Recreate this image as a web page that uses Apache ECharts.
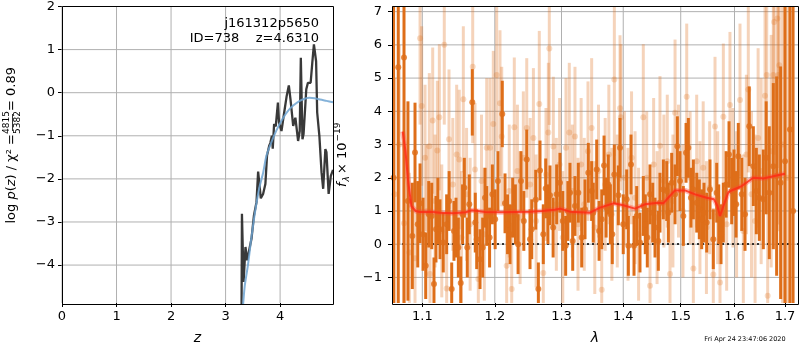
<!DOCTYPE html>
<html>
<head>
<meta charset="utf-8">
<script src="https://cdn.jsdelivr.net/npm/echarts@6/dist/echarts.min.js"></script>
<style>
html, body { margin: 0; padding: 0; background: #fff; }
#chart { width: 800px; height: 350px; }
</style>
</head>
<body>
<div id="chart"></div>
<script>
// ---- redshift probability panel ----
const zGrid  = [3.29, 3.30, 3.33, 3.365, 3.395, 3.43, 3.475, 3.52, 3.567, 3.597, 3.646, 3.688, 3.73, 3.76, 3.80, 3.82, 3.85, 3.865, 3.89, 3.92, 3.96, 3.98, 4.025, 4.07, 4.12, 4.16, 4.19, 4.24, 4.28, 4.33, 4.36, 4.38, 4.41, 4.43, 4.48, 4.51, 4.56, 4.59, 4.62, 4.66, 4.68, 4.72, 4.76, 4.79, 4.83, 4.85, 4.89, 4.93, 4.97];
const logPz  = [-6.0, -2.81, -4.39, -3.58, -3.89, -3.86, -3.39, -2.85, -2.54, -1.83, -2.45, -2.35, -2.12, -1.46, -1.23, -1.17, -1.0, -1.3, -0.73, -0.78, -0.23, -0.69, -0.89, -0.50, -0.08, 0.17, -0.15, -0.77, -0.58, -1.12, -0.89, 0.81, -1.08, -0.96, 0.08, 0.23, 0.23, 0.69, 1.12, 0.73, -0.46, -1.0, -1.85, -2.23, -1.31, -1.38, -2.35, -1.93, -1.79];
const zFit   = [3.30, 3.35, 3.41, 3.47, 3.54, 3.62, 3.69, 3.75, 3.84, 3.93, 4.02, 4.12, 4.24, 4.36, 4.45, 4.54, 4.63, 4.73, 4.85, 4.97];
const logPzFit = [-5.3, -4.5, -4.0, -3.4, -2.77, -2.2, -1.85, -1.46, -1.15, -0.88, -0.66, -0.46, -0.3, -0.19, -0.14, -0.12, -0.13, -0.16, -0.19, -0.22];
const zTicks  = [0, 1, 2, 3, 4];
const pzTicks = [-4, -3, -2, -1, 0, 1, 2];

// ---- spectrum panel (wavelength in micron, flux in 1e-19) ----
const darkLam = [1.0627, 1.0687, 1.0761, 1.0812, 1.0869, 1.0904, 1.0940, 1.0970, 1.1010, 1.1045, 1.1085, 1.1125, 1.1155, 1.1182, 1.1208, 1.1236, 1.1280, 1.1326, 1.1360, 1.1395, 1.1426, 1.1454, 1.1486, 1.1519, 1.1545, 1.1569, 1.1610, 1.1638, 1.1680, 1.1722, 1.1742, 1.1789, 1.1827, 1.1860, 1.1884, 1.1925, 1.1965, 1.2005, 1.2045, 1.2108, 1.2148, 1.2185, 1.2221, 1.2260, 1.2300, 1.2340, 1.2383, 1.2425, 1.2469, 1.2518, 1.2544, 1.2604, 1.2644, 1.2669, 1.2719, 1.2756, 1.2790, 1.2822, 1.2870, 1.2925, 1.2976, 1.3020, 1.3065, 1.3100, 1.3133, 1.3176, 1.3212, 1.3265, 1.3319, 1.3372, 1.3425, 1.3479, 1.3505, 1.3561, 1.3600, 1.3643, 1.3681, 1.3715, 1.3751, 1.3785, 1.3817, 1.3851, 1.3918, 1.3946, 1.4000, 1.4058, 1.4086, 1.4131, 1.4182, 1.4228, 1.4284, 1.4341, 1.4375, 1.4410, 1.4457, 1.4504, 1.4544, 1.4602, 1.4631, 1.4690, 1.4750, 1.4779, 1.4838, 1.4898, 1.4939, 1.4987, 1.5047, 1.5096, 1.5138, 1.5185, 1.5229, 1.5291, 1.5338, 1.5382, 1.5425, 1.5475, 1.5536, 1.5598, 1.5662, 1.5700, 1.5743, 1.5787, 1.5840, 1.5895, 1.5946, 1.5990, 1.6030, 1.6073, 1.6140, 1.6203, 1.6286, 1.6366, 1.6425, 1.6484, 1.6563, 1.6620, 1.6682, 1.6763, 1.6830, 1.6911, 1.7000, 1.7101, 1.7165];
const darkFlux = [2.0, 5.33, 5.62, 1.3, 0.25, 2.76, 0.6, 1.23, 0.3, -0.65, 0.9, 0.85, -1.2, 0.45, 1.0, 0.45, 0.05, 0.6, 1.3, -1.35, 0.4, 0.5, -0.1, -1.17, 0.9, 1.7, -0.1, 1.2, 4.27, 0.65, 0.15, -0.45, -0.1, 1.4, 0.85, 0.2, 1.5, 0.75, 1.9, 3.92, 1.23, 0.6, 0.3, 1.1, 0.9, 0.0, 1.9, 0.7, 2.55, 0.15, 0.45, 1.34, -1.35, 2.22, 0.3, 1.68, 0.9, 1.47, 0.5, 1.5, 1.85, 0.7, -0.05, 1.0, 1.55, 0.1, 1.15, 1.55, 0.2, 1.05, 2.15, 1.6, 0.95, 2.25, 0.4, 0.75, 2.37, 1.1, 1.8, 0.9, 0.3, 2.1, 1.47, 2.9, 0.6, 1.35, -0.05, 2.4, -0.05, 0.85, 0.05, 1.15, 0.6, 0.2, 1.5, 0.95, 0.5, 0.1, 1.25, 1.65, 1.6, 0.95, 1.85, 1.5, 2.95, 1.9, 0.85, 2.75, 2.9, 1.4, 1.65, 1.25, 1.05, 0.75, 0.95, 0.65, 1.65, 0.15, 1.55, 0.9, 0.3, 0.95, 1.8, 2.7, 1.6, 1.85, 1.2, 2.65, 1.5, 0.9, 3.55, 2.35, 1.6, 1.4, 1.35, 2.6, 1.55, 2.35, 2.05, 1.85, 2.5, 3.45, 1.0];
const darkErr = [9, 9, 9, 3.0, 1.6, 1.5, 1.3, 1.2, 1.1, 1.0, 1.0, 1.0, 0.8, 1.0, 1.0, 0.9, 0.9, 0.9, 0.9, 0.8, 0.9, 0.9, 0.9, 0.8, 0.9, 0.9, 0.9, 0.9, 1.0, 0.9, 0.9, 0.9, 0.9, 0.9, 0.9, 0.9, 0.9, 0.9, 0.9, 1.0, 0.9, 0.9, 0.9, 0.9, 0.9, 0.9, 0.9, 0.9, 0.9, 0.9, 0.9, 0.9, 0.8, 0.9, 0.9, 0.9, 0.9, 0.9, 0.9, 0.9, 0.9, 0.9, 0.9, 0.9, 0.9, 0.9, 0.9, 0.9, 0.9, 0.9, 0.9, 0.9, 0.9, 0.9, 0.9, 0.9, 0.9, 0.9, 0.9, 0.9, 0.9, 0.9, 0.9, 0.9, 0.9, 0.9, 0.9, 0.9, 0.9, 0.9, 0.9, 0.9, 0.9, 0.9, 0.9, 0.9, 0.9, 0.9, 0.9, 0.9, 0.9, 0.9, 0.9, 0.9, 0.9, 0.9, 0.9, 0.9, 0.9, 0.9, 0.9, 0.9, 0.9, 0.9, 0.9, 0.9, 0.9, 0.9, 0.9, 0.9, 0.9, 0.9, 1.0, 1.0, 1.0, 1.0, 1.0, 1.0, 1.1, 1.1, 1.2, 1.2, 1.3, 1.3, 1.5, 1.7, 2.0, 2.5, 3.0, 3.5, 5, 9, 9];

const lightLam = [1.0640, 1.0700, 1.0761, 1.0830, 1.0904, 1.0970, 1.0992, 1.1036, 1.1060, 1.1093, 1.1102, 1.1138, 1.1170, 1.1200, 1.1227, 1.1260, 1.1294, 1.1326, 1.1358, 1.1410, 1.1463, 1.1499, 1.1530, 1.1555, 1.1600, 1.1650, 1.1686, 1.1718, 1.1765, 1.1810, 1.1850, 1.1884, 1.1931, 1.1978, 1.2027, 1.2075, 1.2100, 1.2172, 1.2210, 1.2246, 1.2284, 1.2330, 1.2370, 1.2418, 1.2469, 1.2520, 1.2569, 1.2610, 1.2658, 1.2719, 1.2760, 1.2796, 1.2811, 1.2873, 1.2920, 1.2970, 1.3020, 1.3070, 1.3122, 1.3170, 1.3212, 1.3260, 1.3310, 1.3360, 1.3420, 1.3479, 1.3530, 1.3590, 1.3643, 1.3700, 1.3760, 1.3810, 1.3851, 1.3900, 1.3946, 1.3960, 1.4020, 1.4080, 1.4140, 1.4200, 1.4260, 1.4341, 1.4400, 1.4457, 1.4520, 1.4580, 1.4631, 1.4700, 1.4760, 1.4808, 1.4860, 1.4898, 1.4960, 1.5040, 1.5108, 1.5170, 1.5229, 1.5290, 1.5350, 1.5410, 1.5470, 1.5530, 1.5598, 1.5630, 1.5680, 1.5724, 1.5787, 1.5850, 1.5913, 1.5970, 1.6040, 1.6106, 1.6170, 1.6230, 1.6267, 1.6330, 1.6400, 1.6460, 1.6520, 1.6597, 1.6631, 1.6650, 1.6720, 1.6763, 1.6780, 1.6844, 1.6864, 1.6884, 1.6950, 1.7050];
const lightFlux = [1.5, 3.0, 0.63, -0.25, -0.42, 6.2, 4.16, 2.6, 1.0, 2.95, -0.9, 3.72, 1.3, 2.82, 3.82, 0.4, 6.0, -1.33, 3.16, 1.8, 2.7, 2.55, 0.2, 4.36, 1.5, 0.6, 5.34, 2.25, -1.05, 1.9, 0.3, 2.9, 2.9, 3.62, 5.09, 4.24, 3.24, -0.65, 1.6, -1.35, 3.52, 2.2, 0.8, 2.6, 3.5, 1.8, 3.2, 0.7, 4.22, -0.87, 2.1, 3.36, 5.89, 2.94, 1.2, 2.4, 0.2, 2.9, 3.36, 1.6, 3.24, 0.6, 2.4, 1.2, 2.8, 3.5, 0.5, 2.2, -1.37, 1.8, 2.7, 0.9, 4.96, 1.3, 4.09, 3.82, 2.0, 0.9, 2.6, 1.4, 0.3, 3.82, 2.0, -1.25, 2.4, 0.8, 2.96, 1.9, 2.5, -0.9, 1.3, 3.96, 2.2, 1.0, 4.44, 2.0, -0.73, 2.5, 1.1, 2.3, 0.5, 1.7, -0.91, 3.54, 1.4, -1.15, 3.84, 0.6, 4.19, 2.0, 1.2, 4.34, 0.4, 2.7, 4.66, 1.5, 0.7, 3.2, 2.2, 4.47, 5.09, -1.55, 2.8, 5.09, 6.69, 6.79, 5.09, 5.39, 3.0, 2.0];
const lightErr = [3.5, 3.0, 2.5, 2.4, 2.3, 2.6, 2.4, 2.2, 2.0, 2.2, 2.0, 2.2, 2.0, 2.1, 2.2, 2.0, 2.4, 2.0, 2.1, 2.0, 2.1, 2.1, 2.0, 2.2, 2.0, 2.0, 2.3, 2.0, 2.0, 2.0, 2.0, 2.1, 2.1, 2.2, 2.3, 2.2, 2.1, 2.0, 2.0, 2.0, 2.1, 2.0, 2.0, 2.0, 2.1, 2.0, 2.1, 2.0, 2.2, 2.0, 2.0, 2.1, 2.3, 2.1, 2.0, 2.0, 2.0, 2.1, 2.1, 2.0, 2.1, 2.0, 2.0, 2.0, 2.1, 2.1, 2.0, 2.0, 2.0, 2.0, 2.1, 2.0, 2.3, 2.0, 2.2, 2.2, 2.0, 2.0, 2.0, 2.0, 2.0, 2.2, 2.0, 2.0, 2.0, 2.0, 2.1, 2.0, 2.0, 2.0, 2.0, 2.2, 2.0, 2.0, 2.2, 2.0, 2.0, 2.0, 2.0, 2.0, 2.0, 2.0, 2.0, 2.1, 2.0, 2.0, 2.2, 2.0, 2.2, 2.1, 2.2, 2.3, 2.3, 2.4, 2.5, 2.5, 2.6, 2.7, 2.8, 3.0, 3.2, 3.0, 3.5, 3.8, 4.0, 4.5, 4.5, 5, 6, 7];

const modelLam  = [1.0744, 1.0780, 1.0812, 1.0856, 1.0912, 1.0970, 1.1102, 1.1236, 1.1415, 1.1590, 1.1675, 1.1860, 1.2095, 1.2300, 1.2518, 1.2700, 1.2893, 1.2976, 1.3133, 1.3452, 1.3615, 1.3835, 1.4000, 1.4199, 1.4370, 1.4600, 1.4689, 1.4895, 1.5078, 1.5260, 1.5474, 1.5612, 1.5675, 1.5724, 1.5788, 1.5884, 1.5978, 1.6139, 1.6366, 1.6563, 1.6830, 1.7000];
const modelFlux = [3.39, 2.8, 1.95, 1.15, 1.0, 0.97, 0.98, 0.95, 0.93, 0.96, 1.02, 0.97, 0.96, 0.97, 0.98, 1.0, 1.04, 1.07, 0.98, 0.95, 1.1, 1.23, 1.17, 1.07, 1.2, 1.25, 1.23, 1.62, 1.62, 1.5, 1.4, 1.35, 1.15, 0.85, 1.15, 1.57, 1.64, 1.75, 2.0, 1.98, 2.07, 2.12];

const lamTicks  = [1.1, 1.2, 1.3, 1.4, 1.5, 1.6, 1.7];
const fluxTicks = [-1, 0, 1, 2, 3, 4, 5, 6, 7];

// axis ranges; the wavelength axis is logarithmic, so ln(lambda) is plotted
const Z_RANGE = [0, 4.97], PZ_RANGE = [-4.88, 2];
const LAM_RANGE = [Math.log(1.0607), Math.log(1.7267)], FLUX_RANGE = [-1.77, 7.17];

const FONT = 'DejaVu Sans';
const ORANGE = 'rgb(222,110,25)';
const ORANGE_LIGHT = 'rgba(222,110,25,0.3)';
const GRID_GREY = '#b0b0b0';
const minusSign = v => String(v).replace('-', '\u2212');

const G1 = { left: 62, top: 6, width: 271, height: 298 };
const G2 = { left: 392, top: 6, width: 406, height: 298 };

function valueAxis(gridIndex, range, ticks, formatter, margin, extra) {
  return Object.assign({
    gridIndex: gridIndex, type: 'value', min: range[0], max: range[1],
    axisLine: { show: false, onZero: false },
    axisTick: { show: true, length: 4, lineStyle: { color: '#000', width: 1 }, customValues: ticks },
    axisLabel: { color: '#000', fontFamily: FONT, fontSize: 13, margin: margin, customValues: ticks, formatter: formatter },
    splitLine: { show: false }
  }, extra || {});
}

// one plain line series per grid line, spanning the full axis range
function gridLines(xi, yi, xs, ys, xr, yr) {
  const segs = xs.map(v => [[v, yr[0]], [v, yr[1]]]).concat(ys.map(v => [[xr[0], v], [xr[1], v]]));
  return segs.map(seg => ({
    type: 'line', xAxisIndex: xi, yAxisIndex: yi, z: 3, silent: true,
    symbol: 'none', data: seg,
    lineStyle: { color: GRID_GREY, width: 1 }
  }));
}

function errorBars(lam, flux, err, color, z) {
  return {
    type: 'custom', xAxisIndex: 1, yAxisIndex: 1, clip: true, z: z, silent: true,
    data: lam.map((l, i) => [Math.log(l), flux[i], err[i]]),
    encode: { x: 0, y: 1 },
    renderItem: function (params, api) {
      const x = api.value(0), y = api.value(1), e = api.value(2);
      const hi = api.coord([x, y + e]);
      const lo = api.coord([x, y - e]);
      return {
        type: 'rect',
        shape: { x: hi[0] - 1.5, y: hi[1], width: 3, height: lo[1] - hi[1] },
        style: { fill: color }
      };
    }
  };
}

function dots(lam, flux, color, z) {
  return {
    type: 'scatter', xAxisIndex: 1, yAxisIndex: 1, z: z, silent: true,
    symbol: 'circle', symbolSize: 6,
    itemStyle: { color: color },
    data: lam.map((l, i) => [Math.log(l), flux[i]])
  };
}

// black frame round a plot area, as four separate strokes
function frame(g) {
  const x0 = g.left + 0.5, y0 = g.top + 0.5, x1 = g.left + g.width + 0.5, y1 = g.top + g.height + 0.5;
  const seg = (a, b, c, d) => ({ type: 'line', z: 100, shape: { x1: a, y1: b, x2: c, y2: d }, style: { stroke: '#000', lineWidth: 1 } });
  return [seg(x0, y0, x1, y0), seg(x1, y0, x1, y1), seg(x1, y1, x0, y1), seg(x0, y1, x0, y0)];
}

const pzData = zGrid.map((z, i) => [z, logPz[i]]);
const pzFitData = zFit.map((z, i) => [z, logPzFit[i]]);
const modelData = modelLam.map((l, i) => [Math.log(l), modelFlux[i]]);
const lnLamTicks = lamTicks.map(Math.log);

const chart = echarts.init(document.getElementById('chart'), null, { renderer: 'canvas' });

chart.setOption({
  animation: false,
  backgroundColor: '#fff',
  grid: [
    Object.assign({ containLabel: false }, G1),
    Object.assign({ containLabel: false }, G2)
  ],
  xAxis: [
    valueAxis(0, Z_RANGE, zTicks, null, 7, {
      name: 'z', nameLocation: 'middle', nameGap: 28,
      nameTextStyle: { fontFamily: FONT, fontSize: 14, fontStyle: 'italic', color: '#000' }
    }),
    valueAxis(1, LAM_RANGE, lnLamTicks, v => Math.exp(v).toFixed(1), 7, {
      name: 'λ', nameLocation: 'middle', nameGap: 28,
      nameTextStyle: { fontFamily: FONT, fontSize: 14, fontStyle: 'italic', color: '#000' }
    })
  ],
  yAxis: [
    valueAxis(0, PZ_RANGE, pzTicks, minusSign, 7),
    valueAxis(1, FLUX_RANGE, fluxTicks, minusSign, 10)
  ],
  series: gridLines(0, 0, zTicks, pzTicks, Z_RANGE, PZ_RANGE)
    .concat(gridLines(1, 1, lnLamTicks, fluxTicks, LAM_RANGE, FLUX_RANGE))
    .concat([
      {
        type: 'line', xAxisIndex: 0, yAxisIndex: 0, symbol: 'none', silent: true, z: 5,
        lineStyle: { color: 'rgba(40,40,40,0.92)', width: 2.3 },
        data: pzData
      },
      {
        type: 'line', xAxisIndex: 0, yAxisIndex: 0, symbol: 'none', silent: true, z: 6, smooth: 0.3,
        lineStyle: { color: 'rgba(110,165,210,0.85)', width: 2 },
        data: pzFitData
      },
      errorBars(lightLam, lightFlux, lightErr, ORANGE_LIGHT, 4),
      dots(lightLam, lightFlux, ORANGE_LIGHT, 5),
      errorBars(darkLam, darkFlux, darkErr, ORANGE, 6),
      dots(darkLam, darkFlux, ORANGE, 7),
      {
        type: 'line', xAxisIndex: 1, yAxisIndex: 1, symbol: 'none', silent: true, z: 8,
        lineStyle: { color: 'rgba(255,70,50,0.35)', width: 5 },
        data: modelData
      },
      {
        type: 'line', xAxisIndex: 1, yAxisIndex: 1, symbol: 'none', silent: true, z: 9,
        lineStyle: { color: 'rgba(255,40,20,0.8)', width: 2 },
        data: modelData,
        markLine: {
          silent: true, symbol: 'none', label: { show: false },
          lineStyle: { color: '#000', type: [2, 3], width: 1.5 },
          data: [{ yAxis: 0 }]
        }
      }
    ]),
  graphic: frame(G1).concat(frame(G2)).concat([
    { type: 'text', z: 100, style: { text: 'j161312p5650', x: 319, y: 24, textAlign: 'right', textVerticalAlign: 'middle',
      font: '13px "DejaVu Sans"', fill: '#000' } },
    { type: 'text', z: 100, style: { text: 'ID=738    z=4.6310', x: 319, y: 39, textAlign: 'right', textVerticalAlign: 'middle',
      font: '13px "DejaVu Sans"', fill: '#000' } },
    {
      type: 'group', x: 12, y: 155, rotation: Math.PI / 2, z: 100,
      children: [
        { type: 'text', style: { text: 'log {i|p}({i|z}) / χ² =', x: 21, y: 0, textAlign: 'right', textVerticalAlign: 'middle',
          font: '13px "DejaVu Sans"', fill: '#000',
          rich: { i: { fontStyle: 'italic', fontFamily: FONT, fontSize: 13 } } } },
        { type: 'text', style: { text: '4815', x: 32.5, y: -5, textAlign: 'center', textVerticalAlign: 'middle',
          font: '9px "DejaVu Sans"', fill: '#000' } },
        { type: 'line', shape: { x1: 24, y1: 0.5, x2: 41, y2: 0.5 }, style: { stroke: '#000', lineWidth: 0.8 } },
        { type: 'text', style: { text: '5382', x: 32.5, y: 6, textAlign: 'center', textVerticalAlign: 'middle',
          font: '9px "DejaVu Sans"', fill: '#000' } },
        { type: 'text', style: { text: '= 0.89', x: 44, y: 0, textAlign: 'left', textVerticalAlign: 'middle',
          font: '13px "DejaVu Sans"', fill: '#000' } }
      ]
    },
    {
      type: 'group', x: 343, y: 155, rotation: Math.PI / 2, z: 100,
      children: [
        { type: 'text', style: { text: 'f', x: -32, y: 0, textAlign: 'left', textVerticalAlign: 'middle',
          font: 'italic 13px "DejaVu Sans"', fill: '#000' } },
        { type: 'text', style: { text: 'λ', x: -26.5, y: 4, textAlign: 'left', textVerticalAlign: 'middle',
          font: 'italic 9px "DejaVu Sans"', fill: '#000' } },
        { type: 'text', style: { text: '× 10', x: -19, y: 0, textAlign: 'left', textVerticalAlign: 'middle',
          font: '13px "DejaVu Sans"', fill: '#000' } },
        { type: 'text', style: { text: '\u221219', x: 13.5, y: -5, textAlign: 'left', textVerticalAlign: 'middle',
          font: '9px "DejaVu Sans"', fill: '#000' } }
      ]
    },
    { type: 'text', z: 100, style: { text: 'Fri Apr 24 23:47:06 2020', x: 745, y: 339, textAlign: 'center', textVerticalAlign: 'middle',
      font: '6.5px "DejaVu Sans"', fill: '#000' } }
  ])
});
</script>
</body>
</html>
